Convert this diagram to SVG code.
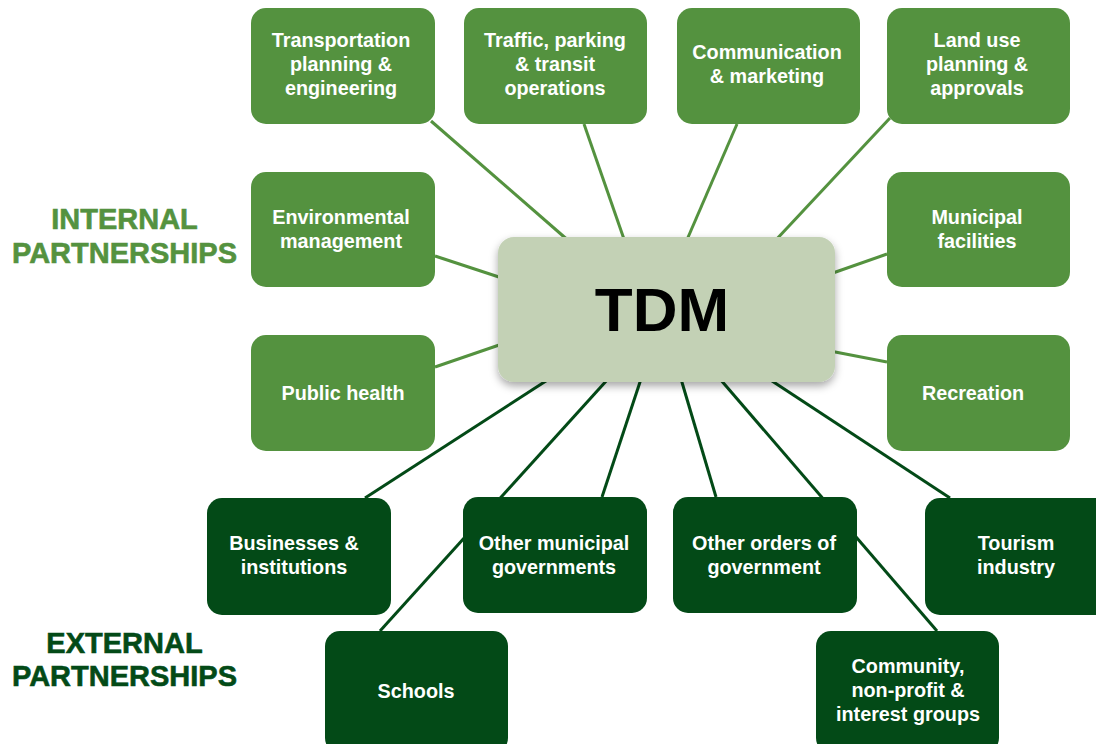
<svg xmlns="http://www.w3.org/2000/svg" width="1096" height="744" viewBox="0 0 1096 744">
<defs>
<filter id="shadow" x="-10%" y="-10%" width="120%" height="130%">
<feDropShadow dx="0" dy="4" stdDeviation="4" flood-color="#000" flood-opacity="0.35"/>
</filter>
<style>
.int { fill: #54923f; }
.ext { fill: #034a17; }
.lbl { font-family: "Liberation Sans", Arial, Helvetica, sans-serif; font-weight: bold; font-size: 19.8px; fill: #ffffff; text-anchor: middle; }
.ci { stroke: #54923f; stroke-width: 3; fill: none; }
.ce { stroke: #034a17; stroke-width: 3; fill: none; }
.head { font-family: "Liberation Sans", Arial, Helvetica, sans-serif; font-weight: bold; text-anchor: middle; font-size: 29px; stroke-width: 0.6; }
</style>
</defs>
<rect width="1096" height="744" fill="#ffffff"/>

<g id="connectors">
<line class="ci" x1="431" y1="121" x2="570" y2="242"/>
<line class="ci" x1="584" y1="124" x2="625" y2="242"/>
<line class="ci" x1="737" y1="124" x2="686" y2="242"/>
<line class="ci" x1="890" y1="118" x2="774" y2="242"/>
<line class="ci" x1="435" y1="256" x2="505" y2="279"/>
<line class="ci" x1="830" y1="274" x2="887" y2="254"/>
<line class="ci" x1="435" y1="367" x2="505" y2="343"/>
<line class="ci" x1="830" y1="351" x2="887" y2="362"/>
<line class="ce" x1="365" y1="498" x2="549" y2="379"/>
<line class="ce" x1="380" y1="631" x2="608" y2="379"/>
<line class="ce" x1="602" y1="497" x2="641" y2="379"/>
<line class="ce" x1="716" y1="497" x2="681" y2="379"/>
<line class="ce" x1="937" y1="631" x2="720" y2="379"/>
<line class="ce" x1="950" y1="498" x2="769" y2="379"/>
</g>

<g id="label-internal">
<text class="head" x="124.5" y="229" fill="#54923f" stroke="#54923f">INTERNAL</text>
<text class="head" x="124.5" y="263" fill="#54923f" stroke="#54923f">PARTNERSHIPS</text>
</g>
<g id="label-external">
<text class="head" x="124.5" y="653" fill="#034a17" stroke="#034a17">EXTERNAL</text>
<text class="head" x="124.5" y="686" fill="#034a17" stroke="#034a17">PARTNERSHIPS</text>
</g>

<g id="tdm">
<rect x="498" y="237" width="337" height="145" rx="16" fill="#c3d1b5" filter="url(#shadow)"/>
<text x="662" y="331" font-family="'Liberation Sans', Arial, Helvetica, sans-serif" font-weight="bold" font-size="62" fill="#000000" text-anchor="middle">TDM</text>
</g>

<g id="transportation">
<rect class="int" x="251" y="8" width="184" height="116" rx="15"/>
<text class="lbl" x="341" y="47">Transportation</text>
<text class="lbl" x="341" y="71">planning &amp;</text>
<text class="lbl" x="341" y="95">engineering</text>
</g>
<g id="traffic">
<rect class="int" x="464" y="8" width="183" height="116" rx="15"/>
<text class="lbl" x="555" y="47">Traffic, parking</text>
<text class="lbl" x="555" y="71">&amp; transit</text>
<text class="lbl" x="555" y="95">operations</text>
</g>
<g id="communication">
<rect class="int" x="677" y="8" width="183" height="116" rx="15"/>
<text class="lbl" x="767" y="59">Communication</text>
<text class="lbl" x="767" y="83">&amp; marketing</text>
</g>
<g id="landuse">
<rect class="int" x="887" y="8" width="183" height="116" rx="15"/>
<text class="lbl" x="977" y="47">Land use</text>
<text class="lbl" x="977" y="71">planning &amp;</text>
<text class="lbl" x="977" y="95">approvals</text>
</g>
<g id="environmental">
<rect class="int" x="251" y="172" width="184" height="115" rx="15"/>
<text class="lbl" x="341" y="224">Environmental</text>
<text class="lbl" x="341" y="248">management</text>
</g>
<g id="municipal-facilities">
<rect class="int" x="887" y="172" width="183" height="115" rx="15"/>
<text class="lbl" x="977" y="224">Municipal</text>
<text class="lbl" x="977" y="248">facilities</text>
</g>
<g id="public-health">
<rect class="int" x="251" y="335" width="184" height="116" rx="15"/>
<text class="lbl" x="343" y="400">Public health</text>
</g>
<g id="recreation">
<rect class="int" x="887" y="335" width="183" height="116" rx="15"/>
<text class="lbl" x="973" y="400">Recreation</text>
</g>

<g id="businesses">
<rect class="ext" x="207" y="498" width="184" height="117" rx="15"/>
<text class="lbl" x="294" y="550">Businesses &amp;</text>
<text class="lbl" x="294" y="574">institutions</text>
</g>
<g id="other-municipal">
<rect class="ext" x="463" y="497" width="184" height="116" rx="15"/>
<text class="lbl" x="554" y="550">Other municipal</text>
<text class="lbl" x="554" y="574">governments</text>
</g>
<g id="other-orders">
<rect class="ext" x="673" y="497" width="184" height="116" rx="15"/>
<text class="lbl" x="764" y="550">Other orders of</text>
<text class="lbl" x="764" y="574">government</text>
</g>
<g id="tourism">
<rect class="ext" x="925" y="498" width="184" height="117" rx="15"/>
<text class="lbl" x="1016" y="550">Tourism</text>
<text class="lbl" x="1016" y="574">industry</text>
</g>
<g id="schools">
<rect class="ext" x="325" y="631" width="183" height="122" rx="15"/>
<text class="lbl" x="416" y="698">Schools</text>
</g>
<g id="community">
<rect class="ext" x="816" y="631" width="183" height="122" rx="15"/>
<text class="lbl" x="908" y="673">Community,</text>
<text class="lbl" x="908" y="697">non-profit &amp;</text>
<text class="lbl" x="908" y="721">interest groups</text>
</g>
</svg>
